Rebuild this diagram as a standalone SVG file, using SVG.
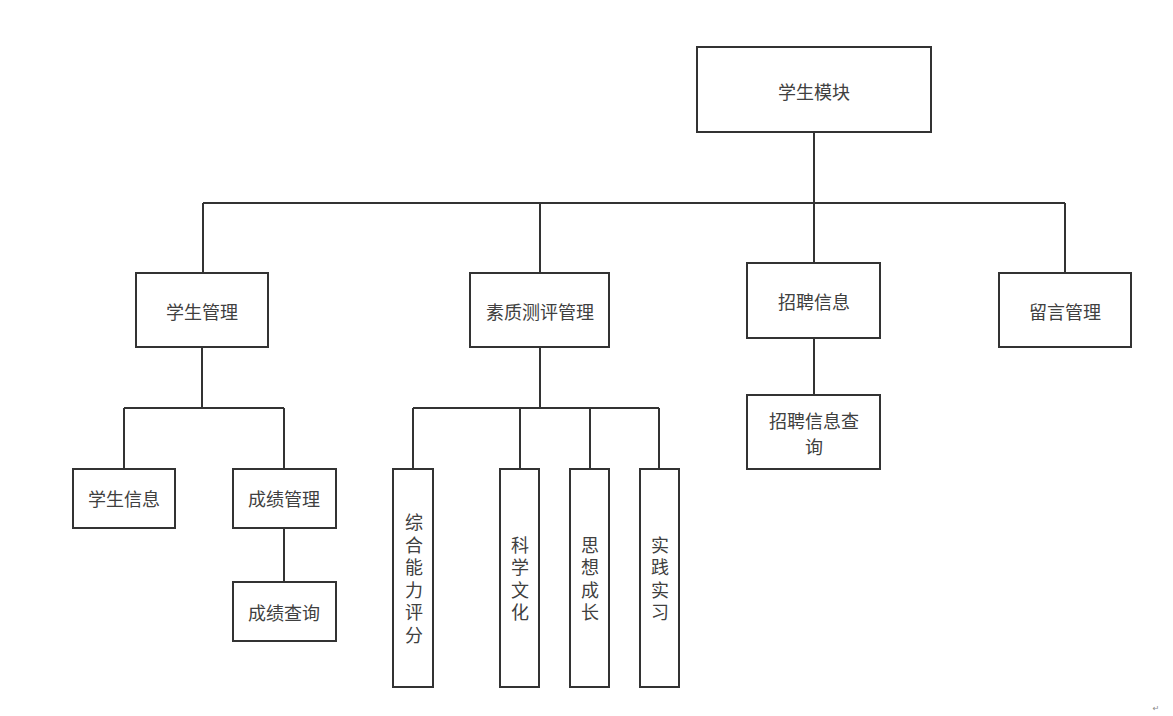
<svg xmlns="http://www.w3.org/2000/svg" width="1173" height="716" viewBox="0 0 1173 716">
<style>
.box{fill:#fff;stroke:#333;stroke-width:2}
.lbl{font-family:"Noto Sans CJK SC","Noto Sans",sans-serif;font-size:18px;fill:#404040;text-anchor:middle;dominant-baseline:central}
.vl{font-family:"Noto Sans CJK SC","Noto Sans",sans-serif;font-size:18px;fill:#404040;text-anchor:middle;writing-mode:vertical-rl;letter-spacing:4.5px}
.conn{fill:none;stroke:#333;stroke-width:2}
</style>
<rect width="1173" height="716" fill="#fff"/>
<g id="connectors">
<path class="conn" d="M814 132V203M203 203H1065M203 203V273M540 203V273M814 203V263M1065 203V273"/>
<path class="conn" d="M202 347V408M124 408H284M124 408V469M284 408V469M284 528V582"/>
<path class="conn" d="M540 347V408M413 408H659M413 408V469M520 408V469M590 408V469M659 408V469"/>
<path class="conn" d="M814 338V395"/>
</g>
<g id="n-root"><rect class="box" x="697" y="47" width="234" height="85"/><text class="lbl" x="814" y="91">学生模块</text></g>
<g id="n-xsgl"><rect class="box" x="136" y="273" width="132" height="74"/><text class="lbl" x="202" y="311">学生管理</text></g>
<g id="n-szcp"><rect class="box" x="470" y="273" width="139" height="74"/><text class="lbl" x="540" y="311">素质测评管理</text></g>
<g id="n-zpxx"><rect class="box" x="747" y="263" width="133" height="75"/><text class="lbl" x="814" y="301">招聘信息</text></g>
<g id="n-lygl"><rect class="box" x="999" y="273" width="132" height="74"/><text class="lbl" x="1065" y="311">留言管理</text></g>
<g id="n-xsxx"><rect class="box" x="73" y="469" width="102" height="59"/><text class="lbl" x="124" y="498">学生信息</text></g>
<g id="n-cjgl"><rect class="box" x="233" y="469" width="103" height="59"/><text class="lbl" x="284" y="498">成绩管理</text></g>
<g id="n-cjcx"><rect class="box" x="233" y="582" width="103" height="59"/><text class="lbl" x="284" y="612">成绩查询</text></g>
<g id="n-zpcx"><rect class="box" x="747" y="395" width="133" height="74"/><text class="lbl" x="814" y="420">招聘信息查</text><text class="lbl" x="814" y="446">询</text></g>
<g id="n-zhnl"><rect class="box" x="393" y="469" width="40" height="218"/><text class="vl" x="414" y="581">综合能力评分</text></g>
<g id="n-kxwh"><rect class="box" x="500" y="469" width="39" height="218"/><text class="vl" x="520" y="581">科学文化</text></g>
<g id="n-sxcz"><rect class="box" x="570" y="469" width="39" height="218"/><text class="vl" x="590" y="581">思想成长</text></g>
<g id="n-sjsx"><rect class="box" x="640" y="469" width="39" height="218"/><text class="vl" x="660" y="581">实践实习</text></g>
<text x="1156" y="711" font-family="DejaVu Sans,sans-serif" font-size="8" fill="#888" text-anchor="middle">↵</text>
</svg>
